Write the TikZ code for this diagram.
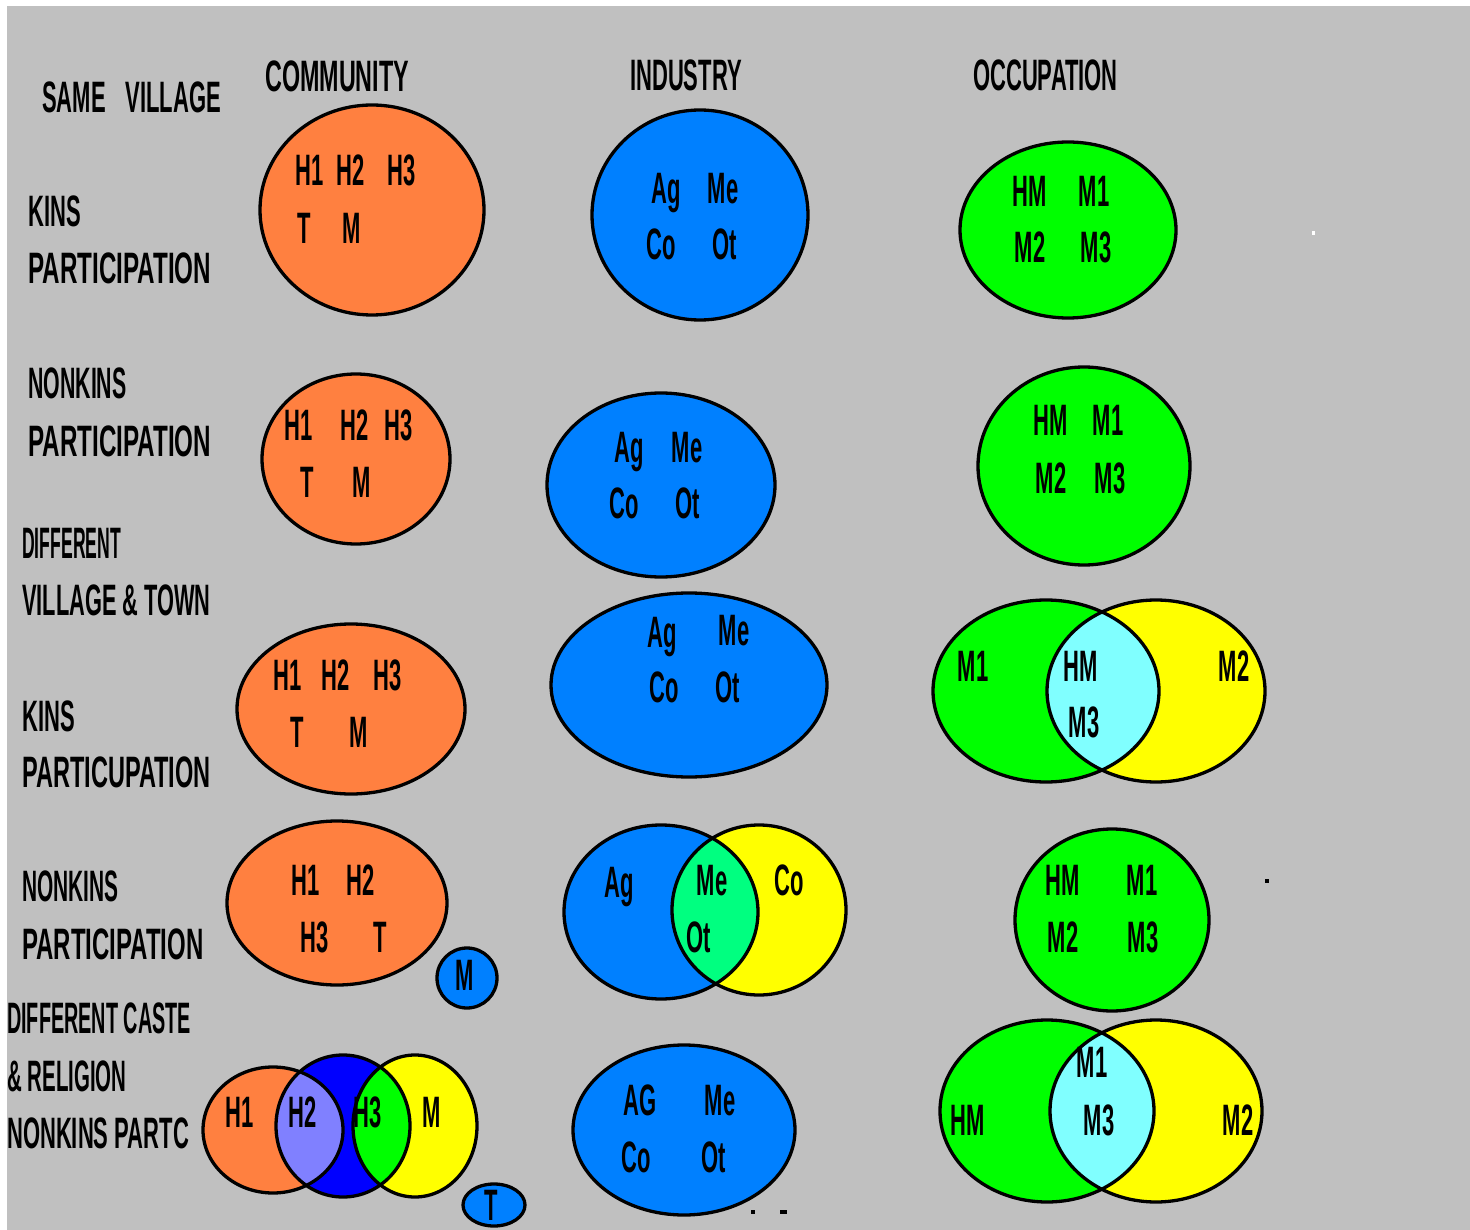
\documentclass[tikz,border=0pt]{standalone}
\usepackage{graphicx}
\usepackage{fontspec}
\newfontfamily\pixfont[FakeStretch=0.5]{Liberation Sans}
\definecolor{bg}{HTML}{C0C0C0}
\definecolor{orng}{HTML}{FF8040}
\definecolor{blu}{HTML}{0080FF}
\definecolor{grn}{HTML}{00FF00}
\definecolor{yel}{HTML}{FFFF00}
\definecolor{cya}{HTML}{80FFFF}
\definecolor{mint}{HTML}{00FF80}
\definecolor{lav}{HTML}{8080FF}
\definecolor{dblu}{HTML}{0000FF}
\tikzset{
  ov/.style={draw=black,line width=3.3pt},
  lbl/.style={font=\pixfont\bfseries\fontsize{44}{44}\selectfont,inner sep=0pt,text height=31pt,text depth=0pt,text=black},
  head/.style={lbl,anchor=west}
}
\newcommand\sx[2]{\scalebox{#1}[1]{#2}}
\begin{document}
\begin{tikzpicture}[x=1pt,y=-1pt]
\useasboundingbox (0,0) rectangle (1470,1230);
\fill[white] (0,0) rectangle (1470,1230);
\fill[bg] (7,6) rectangle (1470,1230);

% ---------- headings ----------
\node[head] (sv) at (42,97) {SAME\hspace{20pt}VILLAGE};
\node[head] (hc) at (265,76) {\sx{1.06}{COMMUNITY}};
\node[head] (hi) at (630,75) {INDUSTRY};
\node[head] (ho) at (973,75) {OCCUPATION};
\node[head] (k1) at (28,211) {KINS};
\node[head] (p1) at (28,268) {\sx{1.1}{PARTICIPATION}};
\node[head] (n2) at (28,383) {\sx{0.97}{NONKINS}};
\node[head] (p2) at (28,441) {\sx{1.1}{PARTICIPATION}};
\node[head] (d3) at (22,543) {\sx{0.8}{DIFFERENT}};
\node[head] (v3) at (22,600) {\sx{0.99}{VILLAGE \& TOWN}};
\node[head] (k3) at (22,716) {KINS};
\node[head] (p3) at (22,772) {\sx{1.07}{PARTICUPATION}};
\node[head] (n4) at (22,886) {\sx{0.95}{NONKINS}};
\node[head] (p4) at (22,944) {\sx{1.09}{PARTICIPATION}};
\node[head] (d5) at (7,1018) {\sx{0.9}{DIFFERENT CASTE}};
\node[head] (r5) at (7,1076) {\sx{0.93}{\& RELIGION}};
\node[head] (n5) at (7,1133) {NONKINS PARTC};

% ---------- row 1 ----------
\path[ov,fill=orng] (372,210) ellipse [x radius=112pt,y radius=105pt];
\path[ov,fill=blu] (700,215) ellipse [x radius=108pt,y radius=105pt];
\path[ov,fill=grn] (1068,230) ellipse [x radius=108pt,y radius=88pt];
\node[lbl] (a1) at (310,170) {H1};
\node[lbl] (a2) at (351,170) {H2};
\node[lbl] (a3) at (402,170) {H3};
\node[lbl] (a4) at (304,228) {T};
\node[lbl] (a5) at (352,228) {M};
\node[lbl] (b1) at (666,188) {Ag};
\node[lbl] (b2) at (723,188) {Me};
\node[lbl] (b3) at (661,244) {Co};
\node[lbl] (b4) at (725,244) {Ot};
\node[lbl] (c1) at (1030,191) {HM};
\node[lbl] (c2) at (1094,191) {M1};
\node[lbl] (c3) at (1030,247) {M2};
\node[lbl] (c4) at (1096,247) {M3};

% ---------- row 2 ----------
\path[ov,fill=orng] (356,459) ellipse [x radius=94pt,y radius=85pt];
\path[ov,fill=blu] (661,485) ellipse [x radius=114pt,y radius=92pt];
\path[ov,fill=grn] (1084,466) ellipse [x radius=106pt,y radius=99pt];
\node[lbl] (d1) at (299,425) {H1};
\node[lbl] (d2) at (355,425) {H2};
\node[lbl] (d3l) at (399,425) {H3};
\node[lbl] (d4) at (307,482) {T};
\node[lbl] (d5l) at (362,482) {M};
\node[lbl] (e1) at (629,447) {Ag};
\node[lbl] (e2) at (687,447) {Me};
\node[lbl] (e3) at (624,503) {Co};
\node[lbl] (e4) at (688,503) {Ot};
\node[lbl] (f1) at (1051,420) {HM};
\node[lbl] (f2) at (1108,420) {M1};
\node[lbl] (f3) at (1051,478) {M2};
\node[lbl] (f4) at (1110,478) {M3};

% ---------- row 3 ----------
\path[ov,fill=orng] (351,709) ellipse [x radius=114pt,y radius=85pt];
\path[ov,fill=blu] (689,685) ellipse [x radius=138pt,y radius=92pt];
\def\vA{(1046,691) ellipse [x radius=113pt,y radius=91pt]}
\def\vB{(1156,691) ellipse [x radius=109pt,y radius=91pt]}
\fill[grn] \vA;
\fill[yel] \vB;
\begin{scope}\clip \vA; \fill[cya] \vB; \end{scope}
\draw[ov] \vA; \draw[ov] \vB;
\node[lbl] (g1) at (288,675) {H1};
\node[lbl] (g2) at (336,675) {H2};
\node[lbl] (g3) at (388,675) {H3};
\node[lbl] (g4) at (297,732) {T};
\node[lbl] (g5) at (359,732) {M};
\node[lbl] (h1) at (662,632) {Ag};
\node[lbl] (h2) at (734,630) {Me};
\node[lbl] (h3) at (664,687) {Co};
\node[lbl] (h4) at (728,687) {Ot};
\node[lbl] (i1) at (973,666) {M1};
\node[lbl] (i2) at (1081,666) {HM};
\node[lbl] (i3) at (1084,722) {M3};
\node[lbl] (i4) at (1234,666) {M2};

% ---------- row 4 ----------
\path[ov,fill=orng] (337,903) ellipse [x radius=110pt,y radius=82pt];
\path[ov,fill=blu] (467,978) ellipse [x radius=30pt,y radius=30pt];
\def\wA{(661,912) ellipse [x radius=97pt,y radius=87pt]}
\def\wB{(759,910) ellipse [x radius=87pt,y radius=85pt]}
\fill[blu] \wA;
\fill[yel] \wB;
\begin{scope}\clip \wA; \fill[mint] \wB; \end{scope}
\draw[ov] \wA; \draw[ov] \wB;
\path[ov,fill=grn] (1112,920) ellipse [x radius=97pt,y radius=91pt];
\node[lbl] (j1) at (306,880) {H1};
\node[lbl] (j2) at (361,880) {H2};
\node[lbl] (j3) at (315,937) {H3};
\node[lbl] (j4) at (380,937) {T};
\node[lbl] (j5) at (465,975) {M};
\node[lbl] (k1l) at (619,882) {Ag};
\node[lbl] (k2) at (712,880) {Me};
\node[lbl] (k3l) at (789,880) {Co};
\node[lbl] (k4) at (699,937) {Ot};
\node[lbl] (m1) at (1063,880) {HM};
\node[lbl] (m2) at (1142,880) {M1};
\node[lbl] (m3) at (1063,937) {M2};
\node[lbl] (m4) at (1143,937) {M3};
\fill[black] (1265,879) rectangle (1269,883);

% ---------- row 5 ----------
\def\xA{(273,1130) ellipse [x radius=70pt,y radius=63pt]}
\def\xB{(343,1126) ellipse [x radius=67pt,y radius=71pt]}
\def\xC{(415,1126) ellipse [x radius=62pt,y radius=71pt]}
\fill[orng] \xA;
\fill[dblu] \xB;
\fill[yel] \xC;
\begin{scope}\clip \xA; \fill[lav] \xB; \end{scope}
\begin{scope}\clip \xB; \fill[grn] \xC; \end{scope}
\draw[ov] \xA; \draw[ov] \xB; \draw[ov] \xC;
\path[ov,fill=blu] (494,1205) ellipse [x radius=31pt,y radius=21pt];
\path[ov,fill=blu] (684,1130) ellipse [x radius=111pt,y radius=85pt];
\def\yA{(1047,1111) ellipse [x radius=107pt,y radius=91pt]}
\def\yB{(1156,1111) ellipse [x radius=106pt,y radius=91pt]}
\fill[grn] \yA;
\fill[yel] \yB;
\begin{scope}\clip \yA; \fill[cya] \yB; \end{scope}
\draw[ov] \yA; \draw[ov] \yB;
\node[lbl] (q1) at (240,1112) {H1};
\node[lbl] (q2) at (303,1112) {H2};
\node[lbl] (q3) at (368,1112) {H3};
\node[lbl] (q4) at (432,1112) {M};
\node[lbl] (q5) at (491,1205) {T};
\node[lbl] (s1) at (640,1100) {AG};
\node[lbl] (s2) at (720,1100) {Me};
\node[lbl] (s3) at (636,1157) {Co};
\node[lbl] (s4) at (714,1157) {Ot};
\node[lbl] (t1) at (968,1120) {HM};
\node[lbl] (t2) at (1092,1062) {M1};
\node[lbl] (t3) at (1099,1120) {M3};
\node[lbl] (t4) at (1238,1120) {M2};
\fill[black] (751,1210) rectangle (755,1214);
\fill[black] (780,1210) rectangle (787,1214);
\fill[white] (1312,231) rectangle (1315,235);
\end{tikzpicture}
\end{document}
